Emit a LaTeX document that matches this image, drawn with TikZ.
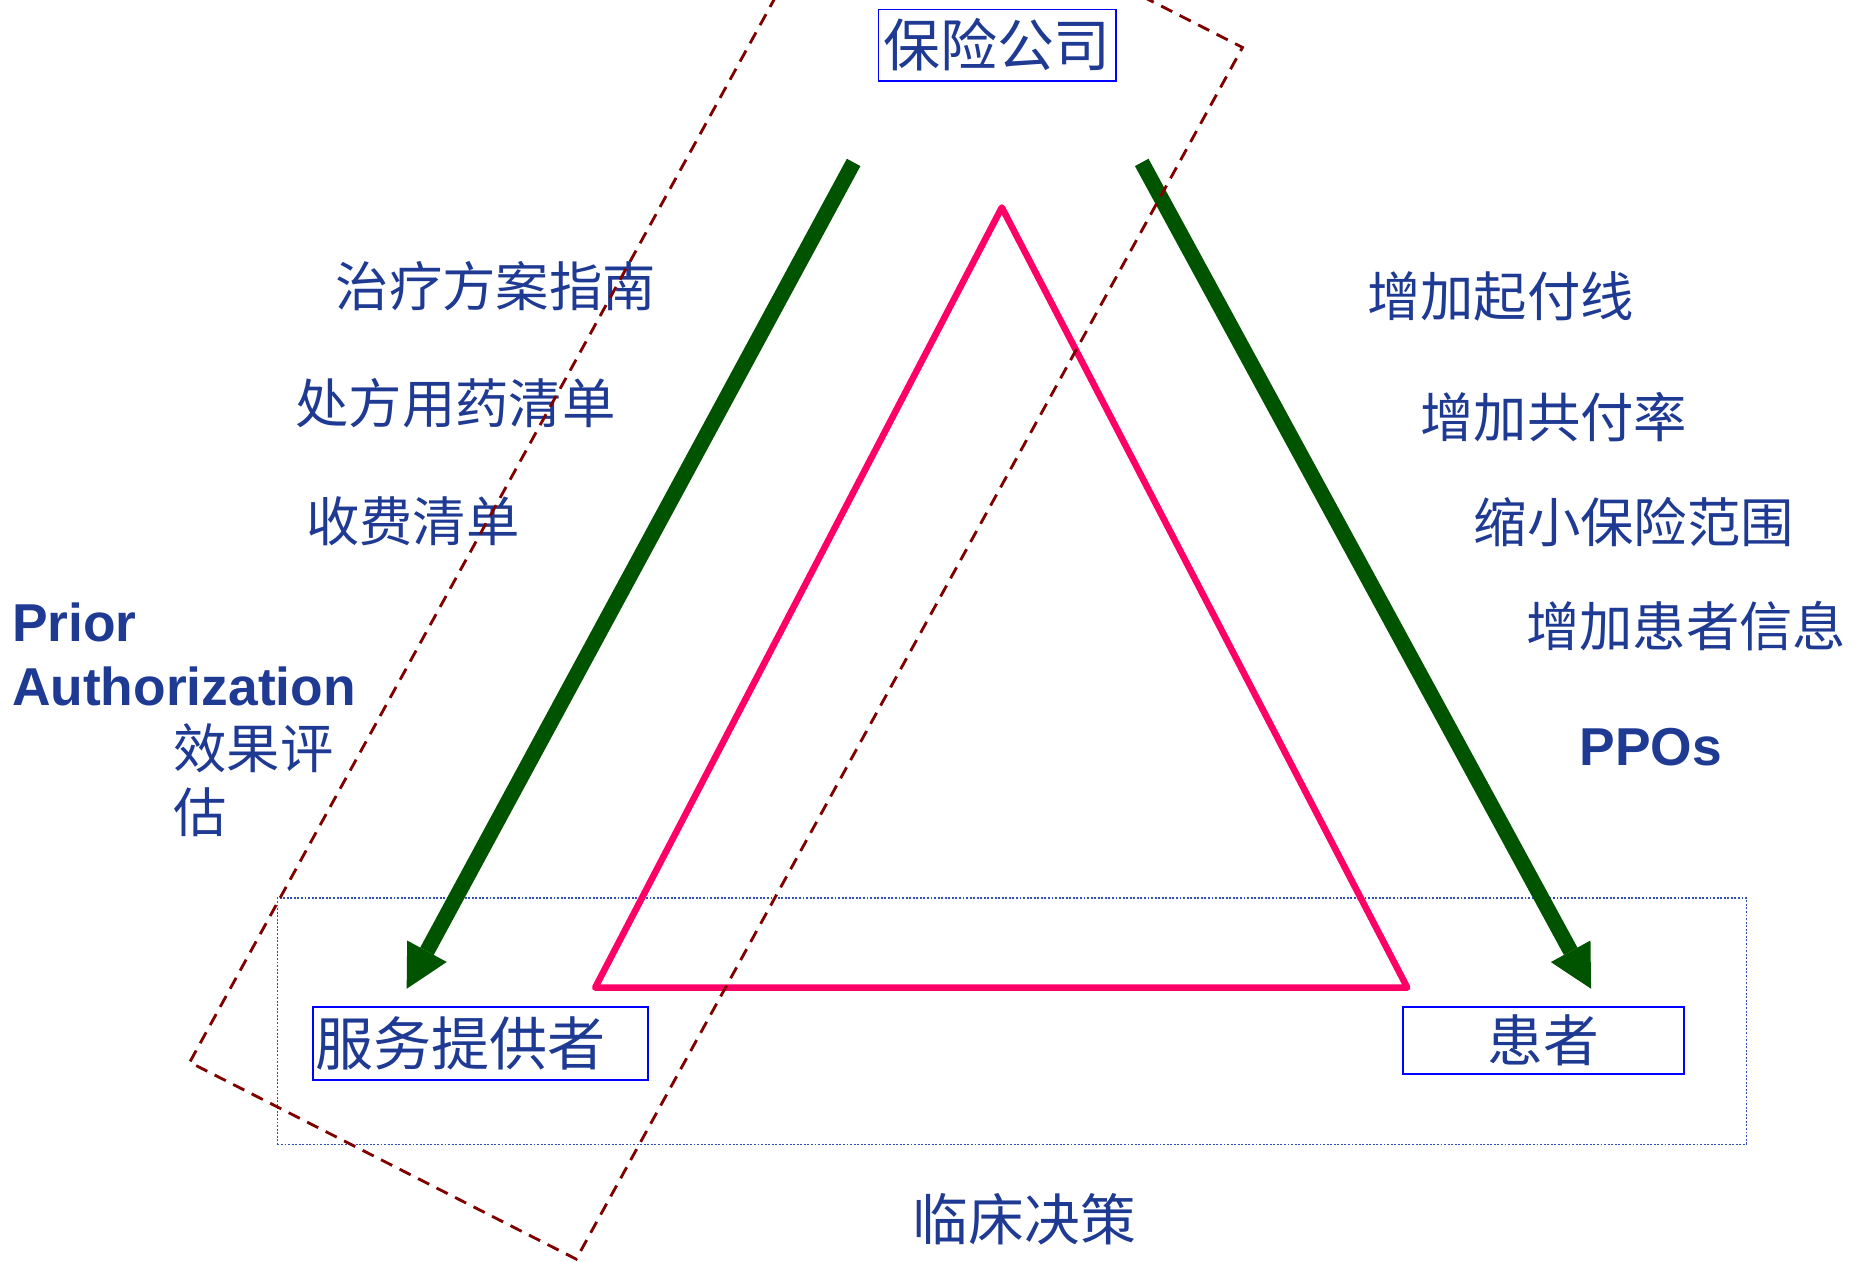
\documentclass[tikz,border=0pt]{standalone}
\usepackage{fontspec}
\setmainfont{Liberation Sans}
\newfontfamily\cjk{Noto Sans CJK SC}
\usetikzlibrary{arrows.meta}
\definecolor{txtblue}{RGB}{31,58,147}
\definecolor{boxblue}{RGB}{0,0,255}
\definecolor{dotblue}{RGB}{50,80,180}
\definecolor{arrowgreen}{RGB}{0,84,0}
\definecolor{tripink}{RGB}{255,0,102}
\definecolor{dashred}{RGB}{128,0,0}
\begin{document}
\begin{tikzpicture}[x=1pt,y=-1pt,
  lbl/.style={text=txtblue, inner sep=0pt, anchor=west, font=\cjk\fontsize{45}{54}\selectfont},
  mainbox/.style={draw=boxblue, line width=1.6pt, text=txtblue, inner sep=0pt, font=\cjk\fontsize{48}{58}\selectfont},
  plain/.style={text=txtblue, inner sep=0pt, font=\cjk\fontsize{47}{56}\selectfont},
  latin/.style={text=txtblue, inner sep=0pt, anchor=base west, font=\bfseries\fontsize{45}{54}\selectfont},
  bigarrow/.style={draw=arrowgreen, line width=13pt, -{Triangle[length=36pt,width=38pt,line width=0pt]}},
  tri/.style={draw=tripink, line width=5.5pt, line join=round},
  dashframe/.style={draw=dashred, line width=2.4pt, dash pattern=on 10.5pt off 7pt},
  dotframe/.style={draw=dotblue, line width=1pt, dash pattern=on 1.6pt off 1.4pt}
]
\useasboundingbox (0,0) rectangle (1568,1064);
\clip (0,0) rectangle (1568,1064);
\fill[white] (0,0) rectangle (1568,1064);

% dotted frame round the bottom row
\node[dotframe, minimum width=1239pt, minimum height=207.5pt, inner sep=0pt] (bottomframe) at (853.5,861.25) {};

% triangle
\coordinate (tapex) at (845,175);
\coordinate (tleft) at (502,833);
\coordinate (tright) at (1187,833);
\draw[tri] (tapex) -- (tleft) -- (tright) -- cycle;

% boxes
\node[mainbox, minimum width=200pt, minimum height=60pt] (insurer) at (841,38) {保险公司};
\node[mainbox, anchor=west, minimum height=62pt, text width=279pt, inner xsep=2pt, align=left, font=\cjk\fontsize{49}{58}\selectfont] (provider) at (263,880) {服务提供者};
\node[mainbox, minimum width=237pt, minimum height=57pt, font=\cjk\fontsize{47}{56}\selectfont] (patient) at (1301.5,877.5) {患者};
\node[plain] (decision) at (864,1028) {临床决策};

% green arrows
\coordinate (lstart) at (720,137);
\coordinate (lend) at (343,834);
\coordinate (rstart) at (963,137);
\coordinate (rend) at (1342,834);
\draw[bigarrow] (lstart) -- (lend);
\draw[bigarrow] (rstart) -- (rend);

% left texts
\node[lbl] (guide) at (283,241) {治疗方案指南};
\node[lbl] (drugs) at (249,340) {处方用药清单};
\node[lbl] (fees) at (258,440) {收费清单};
\node[latin] (prior) at (10,541) {Prior};
\node[latin] (auth) at (10,595) {Authorization};
\node[lbl, align=left] (effect) at (146,658) {效果评\\估};

% right texts
\node[lbl] (deduct) at (1153,250) {增加起付线};
\node[lbl] (copay) at (1198,352) {增加共付率};
\node[lbl] (scope) at (1243,440) {缩小保险范围};
\node[lbl] (info) at (1287,528) {增加患者信息};
\node[latin] (ppos) at (1332,646) {PPOs};

% dashed frame
\coordinate (dbl) at (160,896);
\coordinate (dbr) at (486,1062);
\coordinate (dtr) at (1048,40);
\coordinate (dtl) at (722,-126);
\draw[dashframe] (dtl) -- (dbl) -- (dbr) -- (dtr) -- cycle;
\end{tikzpicture}
\end{document}
